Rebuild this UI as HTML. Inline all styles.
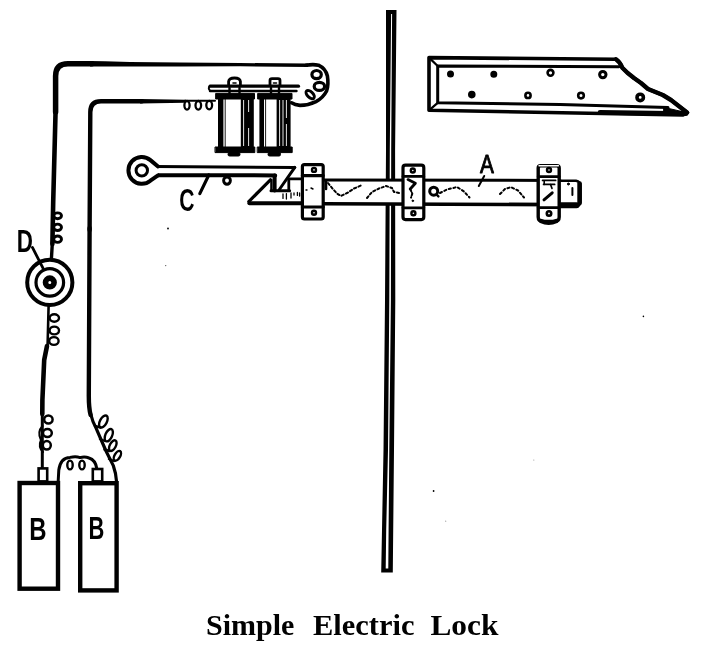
<!DOCTYPE html>
<html><head><meta charset="utf-8"><title>Simple Electric Lock</title>
<style>
html,body{margin:0;padding:0;background:#fff;}
body{width:705px;height:657px;overflow:hidden;position:relative;}
svg{position:absolute;left:0;top:0;display:block;will-change:transform;opacity:0.999;}
.cap{font-family:"Liberation Serif","DejaVu Serif",serif;font-weight:bold;font-size:28.5px;fill:#000;}
.lbl{font-family:"Liberation Sans","DejaVu Sans",sans-serif;fill:#000;}
</style></head><body>
<svg width="705" height="657" viewBox="0 0 705 657" fill="none" stroke="#000" stroke-linecap="round" stroke-linejoin="round">
<!-- WIRES -->
<g id="wires">
<path d="M92,63.8 L68,63.8 Q55.6,63.8 55.6,76 L55.6,112" stroke-width="5.5"/>
<polygon points="90,61.05 105,61.3 130,62 180,62.6 240,63 308,63.6 308,67 240,66.3 180,66.5 130,66.6 90,66.55" fill="#000" stroke="none"/>
<path d="M55.6,110 L53.2,202 L52.4,244" stroke-width="4.6"/>
<path d="M52.4,242 L51.4,259" stroke-width="3.4"/>
<path d="M142,101.2 L101,101.2 Q90.3,101.2 90.3,112 L89.6,230" stroke-width="4.4"/>
<polygon points="140,99 186,99.8 186,102.8 140,103.4" fill="#000" stroke="none"/>
<path d="M185,100.8 L215,100.8" stroke-width="2"/>
<path d="M89.6,228 L88.8,396 Q88.8,408 90.6,415" stroke-width="4.4"/>
<path d="M90.4,413 Q92.5,422 96.7,429.6 L106,451 L113.3,465.6 Q116,473 116.6,482" stroke-width="3.2"/>
<path d="M48.6,306 L47.6,345" stroke-width="2.6"/>
<path d="M47,346 L44.2,360 L42.4,400 L42.3,414" stroke-width="4.6"/>
<path d="M42.3,412 L42.3,467" stroke-width="3"/>
</g>

<!-- COILS ON WIRES -->
<g id="coils" stroke-width="2">
<ellipse cx="57.6" cy="215.8" rx="3.9" ry="2.9" stroke-width="2.9"/>
<ellipse cx="57.6" cy="227.3" rx="3.9" ry="3.2" stroke-width="2.9"/>
<ellipse cx="57.6" cy="239.2" rx="3.9" ry="3.2" stroke-width="2.9"/>
<ellipse cx="54.3" cy="318" rx="4.7" ry="3.7" stroke-width="2.4"/>
<ellipse cx="54.3" cy="330.5" rx="4.7" ry="3.9" stroke-width="2.4"/>
<ellipse cx="53.9" cy="341" rx="4.7" ry="3.9" stroke-width="2.4"/>
<ellipse cx="48.4" cy="419.5" rx="4.2" ry="4" stroke-width="2.5"/>
<ellipse cx="47.4" cy="433" rx="4.4" ry="4" stroke-width="2.5"/>
<ellipse cx="46.8" cy="445.3" rx="4" ry="4.2" stroke-width="2.5"/>
<path d="M42.5,426 Q37,432 41,440 Q38,447 43,452" stroke-width="2.2"/>
<g stroke-width="2.4"><ellipse cx="103.4" cy="421.5" rx="3.4" ry="6.6" transform="rotate(28 103.4 421.5)"/>
<ellipse cx="108.8" cy="435.2" rx="3.4" ry="6.6" transform="rotate(24 108.8 435.2)"/>
<ellipse cx="112.8" cy="445.6" rx="3" ry="5.8" transform="rotate(28 112.8 445.6)"/>
<ellipse cx="117.4" cy="455.8" rx="2.8" ry="5.4" transform="rotate(30 117.4 455.8)"/>
<path d="M95,426 L100.5,427.5 M100,439 L105,441 M104.5,449.5 L109.5,451 M109,459 L114,461"/></g>
<!-- inner wire coils near magnet -->
<ellipse cx="187" cy="105.3" rx="2.6" ry="4.3" stroke-width="2.3"/>
<ellipse cx="198.3" cy="105.3" rx="2.8" ry="4.3" stroke-width="2.3"/>
<ellipse cx="209.2" cy="105.1" rx="2.9" ry="4.3" stroke-width="2.3"/>
</g>
<!-- PUSH BUTTON D -->
<g id="button">
<circle cx="49.8" cy="282.4" r="22.6" stroke-width="4" fill="#fff"/>
<circle cx="49.8" cy="282.4" r="13.8" stroke-width="3.2"/>
<circle cx="49.8" cy="282.4" r="4.3" stroke-width="5.6"/>
<path d="M32.4,247.4 L43,268.2" stroke-width="2.8"/>
</g>
<!-- BATTERIES -->
<g id="batt" stroke-width="4.4" stroke-linejoin="miter">
<rect x="19.6" y="483" width="38.4" height="105.7" fill="#fff"/>
<rect x="80.2" y="483.2" width="36.4" height="107.2" fill="#fff"/>
<rect x="38.6" y="468.4" width="8.6" height="13" stroke-width="2.6" fill="#fff"/>
<rect x="92.8" y="469" width="9.4" height="12.4" stroke-width="2.6" fill="#fff"/>
<path d="M58.2,481 L58.8,470 Q60.5,457.6 70,457.4 Q76,456.2 80,457.6 Q85,456.4 89,458 Q95.5,460 96.8,468.5" stroke-width="3" stroke-linejoin="round"/>
<ellipse cx="70" cy="465" rx="2.7" ry="4.4" stroke-width="2.4"/>
<ellipse cx="82" cy="465" rx="2.7" ry="4.4" stroke-width="2.4"/>
</g>
<!-- VERTICAL DOOR EDGE -->
<g id="bar">
<polygon points="386,10 396.5,10 395.1,150 395.3,300 394,450 392.8,572.4 381.2,572.4 383.5,450 385,300 386,150" fill="#000" stroke="none"/>
<polygon points="391.1,14 392.1,14 391.2,150 390.9,300 389.3,450 388.6,530 388.3,568.4 385.7,568.4 386.2,530 388,450 389.3,300 389.8,150" fill="#fff" stroke="none"/>
</g>
<!-- STRIKE PLATE -->
<g id="plate">
<path d="M429,57.6 L616,59.3 Q620,62 622.3,67.7 L627.4,72.8 L634.3,78.3 L641,83 L648,89 L662.8,95 L671,100 L687.5,112.6 L683,115 L429,110.3 Z" stroke-width="3.6" fill="#fff"/>
<path d="M616,59.3 Q620,62 622.3,67.7 L627.4,72.8 L634.3,78.3 L641,83 L648,89 L662.8,95 L671,100 L687,112.4" stroke-width="4.4"/>
<path d="M600,112.4 L686,113.6" stroke-width="4.6"/>
<path d="M437.7,66 L619,66.8 M437.7,66 L437.7,102.8 M437.7,102.8 L560,104.4 L668,107.6" stroke-width="3"/>
<path d="M664,107.4 L684,112 L664,112 Z" fill="#000" stroke-width="1"/>
<path d="M429,57.6 L437.7,66 M429,110.3 L437.7,102.8" stroke-width="2.2"/>
<g fill="#000" stroke-width="1.6">
<circle cx="450.5" cy="74" r="2.7"/><circle cx="493.8" cy="74.2" r="2.7"/>
<circle cx="550.5" cy="72.8" r="2.9" fill="#fff" stroke-width="2.6"/><circle cx="602.8" cy="74.6" r="3.2" fill="#fff" stroke-width="3"/>
<circle cx="471.8" cy="94.6" r="3"/>
<circle cx="528" cy="95.4" r="2.6" fill="#fff" stroke-width="2.6"/><circle cx="581" cy="95.6" r="2.8" fill="#fff" stroke-width="2.6"/><circle cx="640.2" cy="97.4" r="3.2" fill="#fff" stroke-width="3.6"/>
</g>
</g>
<!-- ELECTROMAGNET -->
<g id="magnet">
<!-- top wire curl -->
<path d="M306,65.3 Q313,64 318.5,65.2 Q325.5,68.5 327.4,76 Q328.8,85 326.6,91 Q323,98 316,101.6 Q308,105.4 300,105.4 Q295,105 291.5,102.8" stroke-width="3.6"/>
<ellipse cx="316.6" cy="74.6" rx="4.7" ry="4.1" stroke-width="3.2"/>
<ellipse cx="319.4" cy="86.4" rx="5.2" ry="4" stroke-width="3.2"/>
<ellipse cx="310.2" cy="94.6" rx="5.2" ry="2.8" stroke-width="2.9" transform="rotate(44 310.2 94.6)"/>
<!-- bolt heads top -->
<path d="M228.6,85 L228.6,81.5 Q229,78 234.5,78 Q240,78 240.4,81.5 L240.4,85" stroke-width="2.8" fill="#fff"/>
<path d="M270,85 L270,80.5 Q270,78.6 272,78.6 L278,78.6 Q280,78.6 280,80.5 L280,85" stroke-width="2.8" fill="#fff"/>
<path d="M233,83 L236,83 M273.5,83 L276.5,83" stroke-width="1.6"/>
<!-- yoke bar -->
<path d="M210,86.2 L298.5,86.2" stroke-width="3.2"/>
<path d="M210,91 L296.5,91" stroke-width="2.4"/>
<path d="M210,86 Q207.6,88.3 210,90.6" stroke-width="2"/>
<!-- coil 1 -->
<rect x="216" y="93.4" width="38.5" height="5.6" fill="#000" stroke-width="1"/>
<rect x="215.4" y="147" width="39.4" height="5.6" fill="#000" stroke-width="1"/>
<rect x="218" y="98" width="5.4" height="50" fill="#000" stroke="none"/>
<path d="M225.2,99 L225.2,147" stroke-width="0.9"/>
<rect x="240.8" y="98" width="13" height="50" fill="#000" stroke="none"/>
<path d="M243.6,100 L243.6,146 M248.6,100 L248.6,112 M248.6,128 L248.6,146" stroke="#fff" stroke-width="0.9" stroke-linecap="butt"/>
<path d="M229.5,88 L229.5,93 M239.5,88 L239.5,93" stroke-width="2.4"/>
<rect x="228" y="152.6" width="12" height="3.4" rx="1.5" fill="#000" stroke-width="1"/>
<!-- coil 2 -->
<rect x="258" y="93.4" width="34" height="5.6" fill="#000" stroke-width="1"/>
<rect x="257.6" y="147" width="34.6" height="5.6" fill="#000" stroke-width="1"/>
<rect x="259.4" y="98" width="4.6" height="50" fill="#000" stroke="none"/>
<path d="M265.6,99 L265.6,147" stroke-width="0.9"/>
<rect x="276.6" y="98" width="14" height="50" fill="#000" stroke="none"/>
<path d="M279.6,100 L279.6,146 M283,100 L283,146 M286.4,100 L286.4,118 M286.4,124 L286.4,146" stroke="#fff" stroke-width="0.9" stroke-linecap="butt"/>
<path d="M271,88 L271,93 M279,88 L279,93" stroke-width="2.4"/>
<rect x="268" y="152.6" width="12.5" height="3.4" rx="1.5" fill="#000" stroke-width="1"/>
</g>

<!-- LEVER C -->
<g id="lever">
<path d="M156,166.6 L295,167.4 L279,190 L274.8,190 L274.8,175.4 L156,175 Z" fill="#fff" stroke="none"/>
<path d="M155,166.6 L294.8,167.4" stroke-width="3"/>
<path d="M155,175.2 L275.2,175.4" stroke-width="4"/>
<path d="M294.8,167.4 L279,190" stroke-width="3"/>
<path d="M274.6,175.4 L274.6,190.6" stroke-width="4"/>
<path d="M158,166.5 L150.4,160.1 A13.4,13.4 0 1 0 150.4,180.7 L158,175.4" stroke-width="4" fill="#fff"/>
<circle cx="141.8" cy="170.4" r="5.7" stroke-width="3"/>
<ellipse cx="227" cy="180.6" rx="3.4" ry="3.6" stroke-width="2.9"/>
<path d="M208.8,175 L199.8,193.6" stroke-width="3.2"/>
</g>
<!-- BOLT A -->
<g id="bolt">
<path d="M270.4,179.8 L248.8,201.6" stroke-width="3.2"/>
<path d="M271.4,180 L271.4,190.6" stroke-width="2.4"/>
<path d="M271,190.8 L289.6,190.8" stroke-width="3"/>
<path d="M288.8,190.6 L288.8,178.8 L302,178.8" stroke-width="2.8"/>
<path d="M249.4,203.2 L302,203.2" stroke-width="4"/>
<!-- shaft -->
<rect x="324" y="180" width="236" height="24" fill="#fff" stroke="none"/>
<path d="M324,180 L560,180.4" stroke-width="3"/>
<path d="M324,203.8 L560,204.6" stroke-width="3.6"/>
<path d="M560,180.7 L576,180.7 Q580.4,181.5 580.4,186 L580.4,201 Q580.4,206.6 575,206.8 L560,206.8" stroke-width="2.6" fill="#fff"/>
<path d="M579.6,183.6 L579.6,203" stroke-width="4.6"/>
<path d="M561,205.2 L576.5,205.2" stroke-width="6"/>
<path d="M572.4,188 L572.4,195" stroke-width="2"/>
<circle cx="568.4" cy="184" r="1" fill="#000" stroke-width="1"/>
</g>

<!-- BRACKETS -->
<g id="brackets" stroke-width="3.2">
<rect x="302.4" y="164.6" width="20.8" height="54.4" rx="2" fill="#fff"/>
<path d="M302.4,175.6 L323.2,175.6 M302.4,207 L323.2,207" stroke-width="3.2"/>
<circle cx="314" cy="169.9" r="2" stroke-width="2.4"/><circle cx="314" cy="212.8" r="2" stroke-width="2.4"/>
<rect x="403" y="165.2" width="20.8" height="54.4" rx="2.5" fill="#fff"/>
<path d="M403,176.4 L423.8,176.4 M403,207.8 L423.8,207.8" stroke-width="2.8"/>
<circle cx="412.8" cy="170.5" r="2" stroke-width="2.4"/><circle cx="413.4" cy="213.3" r="2" stroke-width="2.4"/>
<path d="M408,179.6 L415.4,183.2 L410.2,189" stroke-width="2.8"/>
<path d="M410.2,189 L412.3,193.6 L411,197.6" stroke-width="2" stroke-dasharray="2.6 1.8"/>
<circle cx="412.8" cy="200.8" r="0.8" fill="#000" stroke-width="1"/>
<path d="M538.2,168 Q538.2,165.8 540.6,165.8 L556.8,165.8 Q559.2,165.8 559.2,168 L559.2,217 Q559.2,221.4 554.6,221.4 L542.8,221.4 Q538.2,221.4 538.2,217 Z" stroke-width="3.4" fill="#fff"/>
<path d="M539,165.7 L558.4,165.7" stroke="#fff" stroke-width="1.4"/>
<path d="M538.2,176.6 L559.2,176.6 M538.2,207.6 L559.2,207.6" stroke-width="2.8"/>
<path d="M541,221 Q548.7,224.4 556.4,221" stroke-width="4.4"/>
<circle cx="549" cy="170" r="2" stroke-width="2.4"/><circle cx="549" cy="213.4" r="2.2" stroke-width="2.6"/>
<path d="M542.6,180.4 L555.6,180.4 M543.6,184.4 L554.6,184.4" stroke-width="1.8"/>
<path d="M544.2,181 L544.2,184.4 M550.6,184.6 L552,188.4" stroke-width="1.6"/>
<path d="M552.2,192.8 L544,199.8" stroke-width="3"/>
</g>
<!-- DETAILS IN BOLT -->
<g id="details" stroke-width="2">
<circle cx="433.7" cy="191.2" r="4" stroke-width="3"/>
<path d="M436.5,194.5 L438.4,196.4" stroke-width="2.4"/>
<path d="M440,193 L447,189.5 L457,187 L464,191.5 L469.5,197.5" stroke-dasharray="2.2 2.6"/>
<path d="M500,194 L505,189 L511,187.2 L518,190.5 L524,197.5" stroke-dasharray="2.2 2.6"/>
<path d="M328,183 L332,188 L337,193.5 L341,196 L348,192.5 L354,188.5 L361,185.5" stroke-dasharray="2.4 2.4"/>
<path d="M367,198 L372,192 L379,188.5 L386,186 L392,188 L394,192 L399.5,193" stroke-dasharray="2.2 2.4"/>
<path d="M326,181.5 L326,189" stroke-width="2.6"/>
<path d="M283,194 L283,198.4 M286.4,193.6 L286.4,199 M291,193 L291,198 M294,193 L294,195 M297.4,192.4 L297.4,195.4 M299.6,193 L299.6,196" stroke-width="1.3"/>
<path d="M306,190 L307,190 M311,188 L313,189" stroke-width="1.4"/>
</g>
<!-- LABELS -->
<g id="labels" stroke="none">
<path d="M484.2,176 L478.8,186" stroke="#000" stroke-width="2"/>
<text class="lbl" id="tA" x="0" y="0" font-size="26" stroke="#000" stroke-width="0.9" transform="translate(480,172.6) scale(0.8,1)">A</text>
<text class="lbl" id="tC" x="0" y="0" font-size="31" font-weight="bold" transform="translate(179.2,211.4) scale(0.68,1)">C</text>
<text class="lbl" id="tD" x="0" y="0" font-size="32" font-weight="bold" transform="translate(16.8,252) scale(0.7,1)">D</text>
<text class="lbl" id="tB1" x="0" y="0" font-size="31.5" font-weight="bold" transform="translate(29.2,540) scale(0.76,1)">B</text>
<text class="lbl" id="tB2" x="0" y="0" font-size="30.5" font-weight="bold" transform="translate(88.4,539.4) scale(0.72,1)">B</text>
</g>
<g class="cap" stroke="none"><text x="206" y="635" textLength="88.4" lengthAdjust="spacingAndGlyphs">Simple</text> <text x="313" y="635" textLength="101.4" lengthAdjust="spacingAndGlyphs">Electric</text> <text x="430.4" y="635" textLength="68" lengthAdjust="spacingAndGlyphs">Lock</text></g>

<!-- scan specks -->
<g id="specks" fill="#000" stroke="none">
<circle cx="168" cy="228.5" r="0.9"/><circle cx="165.7" cy="265.6" r="0.7" fill="#555"/>
<circle cx="433.6" cy="491" r="0.9"/><circle cx="643.4" cy="316.4" r="0.8"/>
<circle cx="445.7" cy="521.2" r="0.6" fill="#999"/><circle cx="533.8" cy="460" r="0.6" fill="#999"/>
</g>
</svg>
</body></html>
